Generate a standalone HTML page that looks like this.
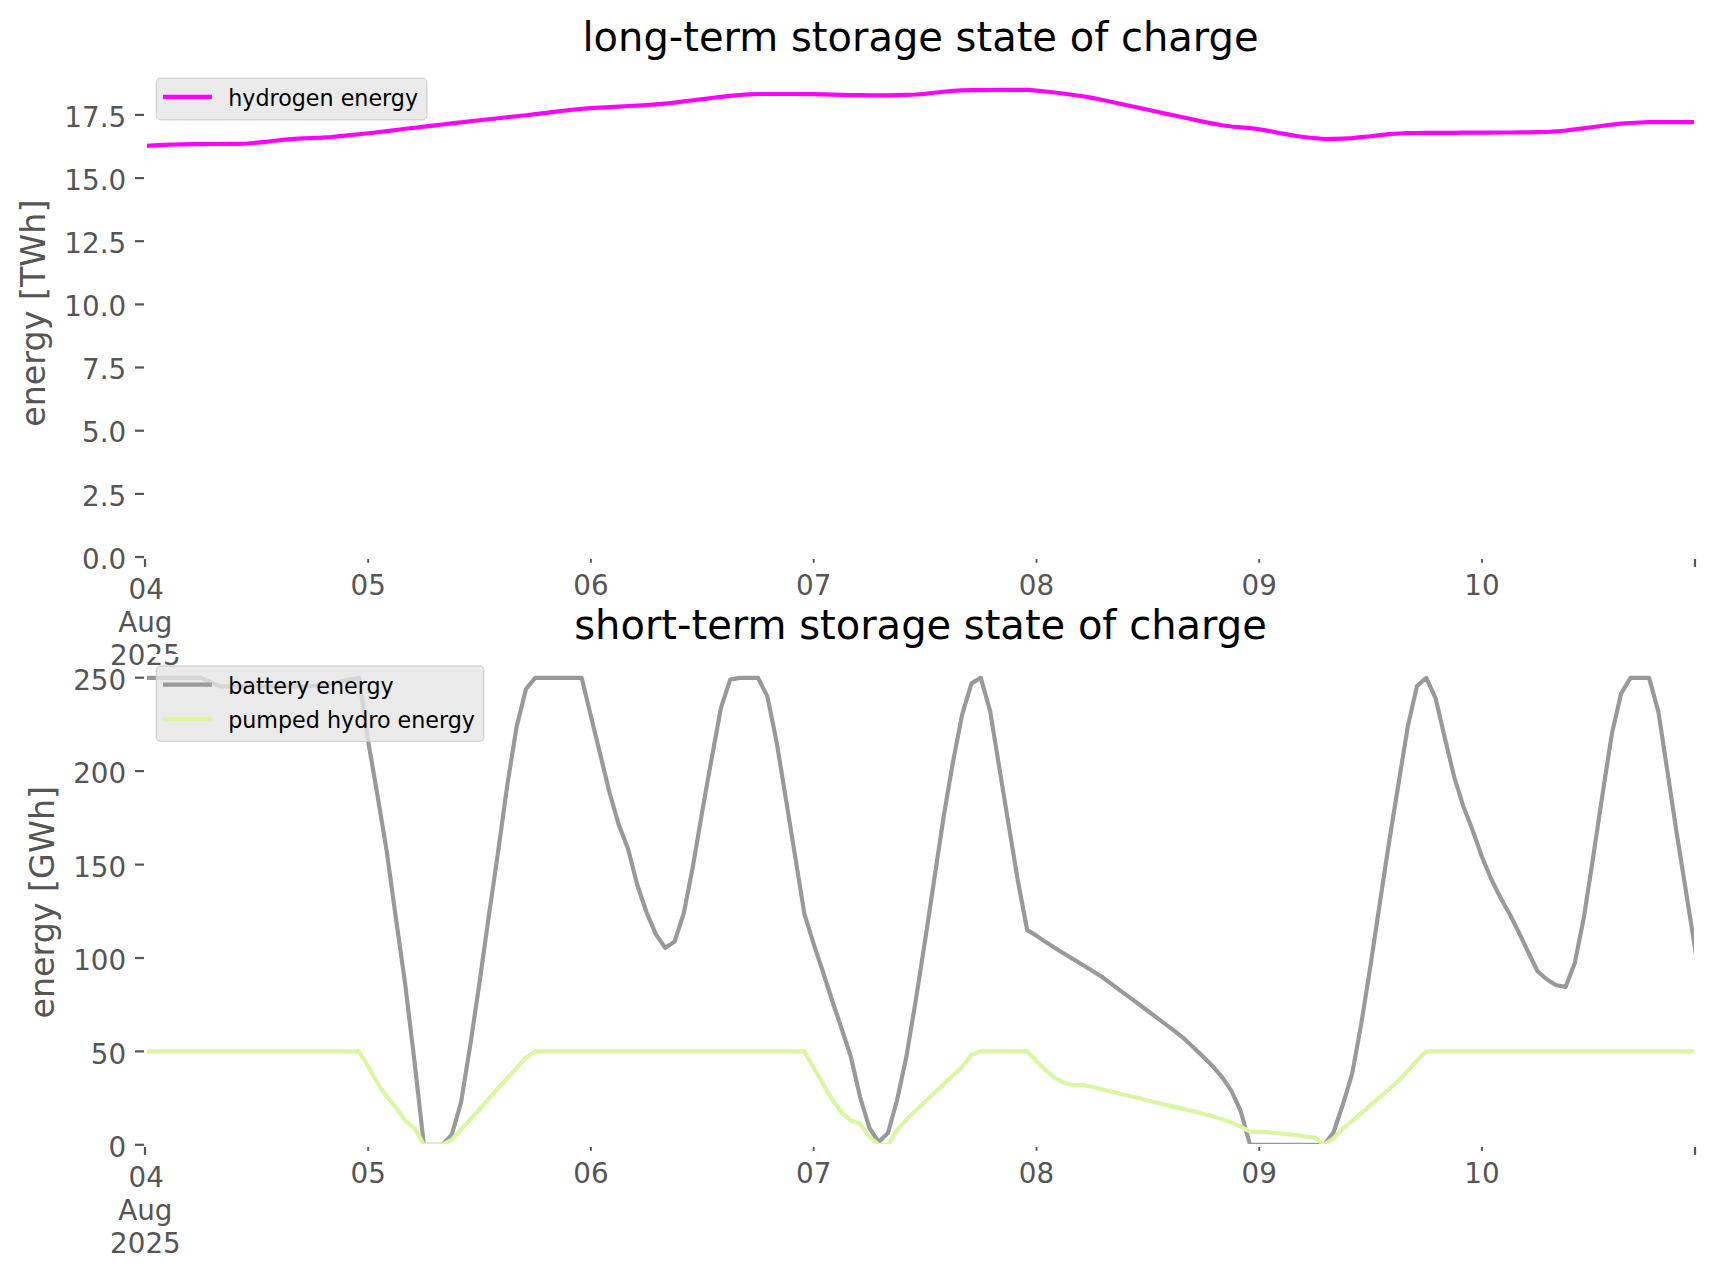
<!DOCTYPE html>
<html><head><meta charset="utf-8"><title>storage state of charge</title>
<style>
html,body{margin:0;padding:0;background:#fff;}
svg{display:block;font-family:"DejaVu Sans","Liberation Sans",sans-serif;}
.tk{font-size:27.78px;fill:#555555;}
.ti{font-size:40px;fill:#000;}
.al{font-size:33.33px;fill:#555555;}
.lg{font-size:22.22px;fill:#000;}
</style></head><body>
<svg width="1715" height="1277" viewBox="0 0 1715 1277">
<rect width="1715" height="1277" fill="#fff"/>
<defs>
<clipPath id="c1"><rect x="145.4" y="67.0" width="1550.1" height="490.20000000000005"/></clipPath>
<clipPath id="c2"><rect x="145.4" y="655.0" width="1550.1" height="490.20000000000005"/></clipPath>
</defs>

<line x1="135.0" y1="557.0" x2="145.4" y2="557.0" stroke="#555555" stroke-width="2.2"/>
<text class="tk" x="126.2" y="568.6" text-anchor="end">0.0</text>
<line x1="135.0" y1="493.9" x2="145.4" y2="493.9" stroke="#555555" stroke-width="2.2"/>
<text class="tk" x="126.2" y="505.5" text-anchor="end">2.5</text>
<line x1="135.0" y1="430.7" x2="145.4" y2="430.7" stroke="#555555" stroke-width="2.2"/>
<text class="tk" x="126.2" y="442.3" text-anchor="end">5.0</text>
<line x1="135.0" y1="367.5" x2="145.4" y2="367.5" stroke="#555555" stroke-width="2.2"/>
<text class="tk" x="126.2" y="379.1" text-anchor="end">7.5</text>
<line x1="135.0" y1="304.4" x2="145.4" y2="304.4" stroke="#555555" stroke-width="2.2"/>
<text class="tk" x="126.2" y="316.0" text-anchor="end">10.0</text>
<line x1="135.0" y1="241.2" x2="145.4" y2="241.2" stroke="#555555" stroke-width="2.2"/>
<text class="tk" x="126.2" y="252.8" text-anchor="end">12.5</text>
<line x1="135.0" y1="178.1" x2="145.4" y2="178.1" stroke="#555555" stroke-width="2.2"/>
<text class="tk" x="126.2" y="189.7" text-anchor="end">15.0</text>
<line x1="135.0" y1="114.9" x2="145.4" y2="114.9" stroke="#555555" stroke-width="2.2"/>
<text class="tk" x="126.2" y="126.5" text-anchor="end">17.5</text>
<line x1="368.2" y1="557.2" x2="368.2" y2="562.8" stroke="#555555" stroke-width="1.9"/>
<text class="tk" x="368.2" y="594.7" text-anchor="middle">05</text>
<line x1="590.9" y1="557.2" x2="590.9" y2="562.8" stroke="#555555" stroke-width="1.9"/>
<text class="tk" x="590.9" y="594.7" text-anchor="middle">06</text>
<line x1="813.7" y1="557.2" x2="813.7" y2="562.8" stroke="#555555" stroke-width="1.9"/>
<text class="tk" x="813.7" y="594.7" text-anchor="middle">07</text>
<line x1="1036.5" y1="557.2" x2="1036.5" y2="562.8" stroke="#555555" stroke-width="1.9"/>
<text class="tk" x="1036.5" y="594.7" text-anchor="middle">08</text>
<line x1="1259.2" y1="557.2" x2="1259.2" y2="562.8" stroke="#555555" stroke-width="1.9"/>
<text class="tk" x="1259.2" y="594.7" text-anchor="middle">09</text>
<line x1="1482.0" y1="557.2" x2="1482.0" y2="562.8" stroke="#555555" stroke-width="1.9"/>
<text class="tk" x="1482.0" y="594.7" text-anchor="middle">10</text>
<line x1="145.0" y1="557.2" x2="145.0" y2="566.9" stroke="#555555" stroke-width="2.2"/>
<line x1="1695.0" y1="557.2" x2="1695.0" y2="566.9" stroke="#555555" stroke-width="2.2"/>
<text class="tk" x="146.2" y="598.8" text-anchor="middle">04</text>
<text class="tk" x="145.4" y="632.1" text-anchor="middle">Aug</text>
<text class="tk" x="145.4" y="665.4" text-anchor="middle">2025</text>
<polyline clip-path="url(#c1)" fill="none" stroke="#FF00FF" stroke-width="4.17" stroke-linejoin="round" stroke-linecap="square" points="145.4,145.8 154.7,145.3 164.0,144.9 173.2,144.5 182.5,144.3 191.8,144.2 201.1,144.1 210.4,144.0 219.7,144.0 228.9,143.9 238.2,143.9 247.5,143.5 256.8,142.7 266.1,141.8 275.3,140.7 284.6,139.6 293.9,138.8 303.2,138.4 312.5,138.0 321.8,137.6 331.0,137.0 340.3,136.1 349.6,135.2 358.9,134.2 368.2,133.2 377.5,132.2 386.7,131.1 396.0,130.0 405.3,128.8 414.6,127.7 423.9,126.6 433.1,125.6 442.4,124.5 451.7,123.4 461.0,122.4 470.3,121.3 479.6,120.2 488.8,119.2 498.1,118.2 507.4,117.2 516.7,116.2 526.0,115.2 535.2,114.1 544.5,113.1 553.8,111.9 563.1,110.8 572.4,109.8 581.7,108.9 590.9,108.2 600.2,107.6 609.5,107.1 618.8,106.6 628.1,106.0 637.3,105.6 646.6,105.0 655.9,104.4 665.2,103.6 674.5,102.6 683.8,101.4 693.0,100.2 702.3,99.1 711.6,98.0 720.9,96.9 730.2,95.8 739.5,95.0 748.7,94.3 758.0,94.0 767.3,94.0 776.6,94.0 785.9,94.0 795.1,94.0 804.4,94.1 813.7,94.2 823.0,94.4 832.3,94.7 841.6,94.9 850.8,95.1 860.1,95.2 869.4,95.4 878.7,95.4 888.0,95.4 897.2,95.2 906.5,94.9 915.8,94.5 925.1,93.8 934.4,92.8 943.7,91.7 952.9,90.8 962.2,90.3 971.5,90.2 980.8,90.1 990.1,90.0 999.3,89.9 1008.6,89.9 1017.9,89.9 1027.2,89.9 1036.5,90.6 1045.8,91.5 1055.0,92.5 1064.3,93.7 1073.6,95.0 1082.9,96.3 1092.2,97.9 1101.4,99.7 1110.7,101.7 1120.0,103.7 1129.3,105.8 1138.6,107.7 1147.9,109.8 1157.1,111.8 1166.4,113.9 1175.7,115.8 1185.0,117.8 1194.3,119.8 1203.6,121.8 1212.8,123.6 1222.1,125.3 1231.4,126.5 1240.7,127.3 1250.0,128.1 1259.2,129.3 1268.5,130.9 1277.8,132.7 1287.1,134.4 1296.4,136.0 1305.7,137.2 1314.9,138.2 1324.2,139.0 1333.5,138.9 1342.8,138.6 1352.1,138.1 1361.3,137.2 1370.6,136.2 1379.9,135.1 1389.2,134.2 1398.5,133.5 1407.8,133.2 1417.0,133.0 1426.3,132.9 1435.6,132.8 1444.9,132.8 1454.2,132.8 1463.4,132.7 1472.7,132.7 1482.0,132.7 1491.3,132.6 1500.6,132.5 1509.9,132.5 1519.1,132.4 1528.4,132.3 1537.7,132.2 1547.0,132.0 1556.3,131.3 1565.6,130.5 1574.8,129.4 1584.1,128.2 1593.4,127.0 1602.7,125.8 1612.0,124.6 1621.2,123.7 1630.5,123.0 1639.8,122.5 1649.1,122.2 1658.4,122.2 1667.7,122.2 1676.9,122.2 1686.2,122.2 1695.5,122.2"/>
<rect x="144" y="66" width="3" height="493" fill="#fff"/>
<rect x="1694" y="66" width="3" height="493" fill="#fff"/>
<rect x="144" y="556" width="1553" height="3" fill="#fff"/>
<rect x="144" y="66" width="1553" height="3" fill="#fff"/>
<text class="ti" x="920.5" y="50.6" text-anchor="middle">long-term storage state of charge</text>
<text class="al" transform="translate(44.9,313.2) rotate(-90)" text-anchor="middle">energy [TWh]</text>
<rect x="156.3" y="78.1" width="270.5" height="41.7" rx="4.4" ry="4.4" fill="#E5E5E5" fill-opacity="0.8" stroke="#cccccc" stroke-opacity="0.8" stroke-width="1.4"/>
<line x1="163.0" y1="96.8" x2="211.9" y2="96.8" stroke="#FF00FF" stroke-width="4.17"/>
<text class="lg" x="228.2" y="105.7">hydrogen energy</text>
<line x1="135.0" y1="1144.8" x2="145.4" y2="1144.8" stroke="#555555" stroke-width="2.2"/>
<text class="tk" x="126.2" y="1156.9" text-anchor="end">0</text>
<line x1="135.0" y1="1051.4" x2="145.4" y2="1051.4" stroke="#555555" stroke-width="2.2"/>
<text class="tk" x="126.2" y="1063.5" text-anchor="end">50</text>
<line x1="135.0" y1="958.0" x2="145.4" y2="958.0" stroke="#555555" stroke-width="2.2"/>
<text class="tk" x="126.2" y="970.1" text-anchor="end">100</text>
<line x1="135.0" y1="864.6" x2="145.4" y2="864.6" stroke="#555555" stroke-width="2.2"/>
<text class="tk" x="126.2" y="876.7" text-anchor="end">150</text>
<line x1="135.0" y1="771.1" x2="145.4" y2="771.1" stroke="#555555" stroke-width="2.2"/>
<text class="tk" x="126.2" y="783.2" text-anchor="end">200</text>
<line x1="135.0" y1="677.7" x2="145.4" y2="677.7" stroke="#555555" stroke-width="2.2"/>
<text class="tk" x="126.2" y="689.8" text-anchor="end">250</text>
<line x1="368.2" y1="1145.2" x2="368.2" y2="1150.8" stroke="#555555" stroke-width="1.9"/>
<text class="tk" x="368.2" y="1182.7" text-anchor="middle">05</text>
<line x1="590.9" y1="1145.2" x2="590.9" y2="1150.8" stroke="#555555" stroke-width="1.9"/>
<text class="tk" x="590.9" y="1182.7" text-anchor="middle">06</text>
<line x1="813.7" y1="1145.2" x2="813.7" y2="1150.8" stroke="#555555" stroke-width="1.9"/>
<text class="tk" x="813.7" y="1182.7" text-anchor="middle">07</text>
<line x1="1036.5" y1="1145.2" x2="1036.5" y2="1150.8" stroke="#555555" stroke-width="1.9"/>
<text class="tk" x="1036.5" y="1182.7" text-anchor="middle">08</text>
<line x1="1259.2" y1="1145.2" x2="1259.2" y2="1150.8" stroke="#555555" stroke-width="1.9"/>
<text class="tk" x="1259.2" y="1182.7" text-anchor="middle">09</text>
<line x1="1482.0" y1="1145.2" x2="1482.0" y2="1150.8" stroke="#555555" stroke-width="1.9"/>
<text class="tk" x="1482.0" y="1182.7" text-anchor="middle">10</text>
<line x1="145.0" y1="1145.2" x2="145.0" y2="1154.9" stroke="#555555" stroke-width="2.2"/>
<line x1="1695.0" y1="1145.2" x2="1695.0" y2="1154.9" stroke="#555555" stroke-width="2.2"/>
<text class="tk" x="146.2" y="1186.8" text-anchor="middle">04</text>
<text class="tk" x="145.4" y="1220.1" text-anchor="middle">Aug</text>
<text class="tk" x="145.4" y="1253.4" text-anchor="middle">2025</text>
<polyline clip-path="url(#c2)" fill="none" stroke="#999999" stroke-width="4.17" stroke-linejoin="round" stroke-linecap="square" points="145.4,677.9 154.7,677.9 164.0,677.9 173.2,677.9 182.5,677.9 191.8,677.9 201.1,677.9 210.4,682.1 219.7,686.3 228.9,686.3 238.2,686.3 247.5,686.3 256.8,686.3 266.1,686.3 275.3,686.3 284.6,686.3 293.9,686.3 303.2,686.3 312.5,686.0 321.8,685.0 331.0,683.5 340.3,681.5 349.6,679.5 358.9,677.9 368.2,741.2 377.5,795.7 386.7,851.0 396.0,918.9 405.3,985.0 414.6,1062.5 423.9,1144.8 433.1,1144.8 442.4,1144.8 451.7,1135.0 461.0,1102.6 470.3,1045.0 479.6,982.0 488.8,916.0 498.1,852.0 507.4,784.2 516.7,726.4 526.0,689.0 535.2,677.9 544.5,677.9 553.8,677.9 563.1,677.9 572.4,677.9 581.7,677.9 590.9,716.0 600.2,754.2 609.5,792.5 618.8,824.8 628.1,849.1 637.3,885.0 646.6,912.5 655.9,934.4 665.2,947.7 674.5,941.8 683.8,913.2 693.0,866.0 702.3,811.0 711.6,758.8 720.9,708.1 730.2,679.6 739.5,677.9 748.7,677.9 758.0,677.9 767.3,696.1 776.6,741.9 785.9,799.0 795.1,856.0 804.4,914.0 813.7,944.0 823.0,972.0 832.3,1001.0 841.6,1028.7 850.8,1056.7 860.1,1097.0 869.4,1128.0 878.7,1142.0 888.0,1133.0 897.2,1099.5 906.5,1056.0 915.8,1000.0 925.1,940.5 934.4,878.4 943.7,816.4 952.9,762.3 962.2,714.4 971.5,683.4 980.8,677.9 990.1,711.0 999.3,767.5 1008.6,824.5 1017.9,881.0 1027.2,930.1 1036.5,935.6 1045.8,942.1 1055.0,948.0 1064.3,953.7 1073.6,959.4 1082.9,965.0 1092.2,970.7 1101.4,976.5 1110.7,983.4 1120.0,990.3 1129.3,997.1 1138.6,1004.0 1147.9,1011.0 1157.1,1017.9 1166.4,1024.9 1175.7,1031.8 1185.0,1039.4 1194.3,1048.2 1203.6,1057.2 1212.8,1066.4 1222.1,1077.2 1231.4,1090.9 1240.7,1111.0 1250.0,1144.8 1259.2,1144.8 1268.5,1144.8 1277.8,1144.8 1287.1,1144.8 1296.4,1144.8 1305.7,1144.8 1314.9,1144.8 1324.2,1144.8 1333.5,1132.5 1342.8,1104.5 1352.1,1074.0 1361.3,1023.5 1370.6,965.0 1379.9,902.6 1389.2,841.4 1398.5,783.9 1407.8,726.4 1417.0,686.0 1426.3,677.9 1435.6,698.3 1444.9,738.2 1454.2,777.0 1463.4,806.5 1472.7,830.5 1482.0,857.0 1491.3,879.3 1500.6,898.0 1509.9,914.5 1519.1,933.0 1528.4,952.5 1537.7,971.5 1547.0,979.5 1556.3,985.2 1565.6,986.9 1574.8,963.0 1584.1,916.1 1593.4,855.5 1602.7,793.1 1612.0,733.0 1621.2,693.3 1630.5,677.9 1639.8,677.9 1649.1,677.9 1658.4,711.9 1667.7,773.2 1676.9,834.4 1686.2,893.0 1695.5,951.5"/>
<polyline clip-path="url(#c2)" fill="none" stroke="#D9F6A2" stroke-width="4.17" stroke-linejoin="round" stroke-linecap="square" points="145.4,1051.4 154.7,1051.4 164.0,1051.4 173.2,1051.4 182.5,1051.4 191.8,1051.4 201.1,1051.4 210.4,1051.4 219.7,1051.4 228.9,1051.4 238.2,1051.4 247.5,1051.4 256.8,1051.4 266.1,1051.4 275.3,1051.4 284.6,1051.4 293.9,1051.4 303.2,1051.4 312.5,1051.4 321.8,1051.4 331.0,1051.4 340.3,1051.4 349.6,1051.4 358.9,1051.4 368.2,1066.4 377.5,1083.0 386.7,1096.7 396.0,1107.5 405.3,1120.8 414.6,1128.1 423.9,1144.8 433.1,1144.8 442.4,1144.8 451.7,1139.8 461.0,1129.5 470.3,1119.3 479.6,1109.0 488.8,1098.7 498.1,1088.4 507.4,1078.2 516.7,1067.9 526.0,1057.6 535.2,1051.4 544.5,1051.4 553.8,1051.4 563.1,1051.4 572.4,1051.4 581.7,1051.4 590.9,1051.4 600.2,1051.4 609.5,1051.4 618.8,1051.4 628.1,1051.4 637.3,1051.4 646.6,1051.4 655.9,1051.4 665.2,1051.4 674.5,1051.4 683.8,1051.4 693.0,1051.4 702.3,1051.4 711.6,1051.4 720.9,1051.4 730.2,1051.4 739.5,1051.4 748.7,1051.4 758.0,1051.4 767.3,1051.4 776.6,1051.4 785.9,1051.4 795.1,1051.4 804.4,1051.4 813.7,1067.8 823.0,1084.0 832.3,1099.7 841.6,1112.4 850.8,1120.6 860.1,1123.6 869.4,1136.9 878.7,1144.8 888.0,1144.8 897.2,1129.8 906.5,1119.5 915.8,1110.5 925.1,1101.8 934.4,1093.0 943.7,1084.4 952.9,1075.6 962.2,1066.8 971.5,1054.7 980.8,1051.4 990.1,1051.4 999.3,1051.4 1008.6,1051.4 1017.9,1051.4 1027.2,1051.4 1036.5,1061.5 1045.8,1070.3 1055.0,1078.2 1064.3,1083.0 1073.6,1085.0 1082.9,1084.8 1092.2,1087.0 1101.4,1089.3 1110.7,1091.5 1120.0,1093.8 1129.3,1096.0 1138.6,1098.1 1147.9,1100.5 1157.1,1102.6 1166.4,1105.0 1175.7,1107.1 1185.0,1109.3 1194.3,1111.6 1203.6,1114.0 1212.8,1116.3 1222.1,1119.3 1231.4,1122.4 1240.7,1126.7 1250.0,1131.6 1259.2,1131.8 1268.5,1132.2 1277.8,1133.2 1287.1,1134.1 1296.4,1135.1 1305.7,1136.5 1314.9,1137.6 1324.2,1144.8 1333.5,1138.5 1342.8,1128.5 1352.1,1121.0 1361.3,1113.2 1370.6,1105.2 1379.9,1097.2 1389.2,1089.0 1398.5,1080.7 1407.8,1070.8 1417.0,1060.5 1426.3,1051.4 1435.6,1051.4 1444.9,1051.4 1454.2,1051.4 1463.4,1051.4 1472.7,1051.4 1482.0,1051.4 1491.3,1051.4 1500.6,1051.4 1509.9,1051.4 1519.1,1051.4 1528.4,1051.4 1537.7,1051.4 1547.0,1051.4 1556.3,1051.4 1565.6,1051.4 1574.8,1051.4 1584.1,1051.4 1593.4,1051.4 1602.7,1051.4 1612.0,1051.4 1621.2,1051.4 1630.5,1051.4 1639.8,1051.4 1649.1,1051.4 1658.4,1051.4 1667.7,1051.4 1676.9,1051.4 1686.2,1051.4 1695.5,1051.4"/>
<rect x="144" y="654" width="3" height="493" fill="#fff"/>
<rect x="1694" y="654" width="3" height="493" fill="#fff"/>
<rect x="144" y="1144" width="1553" height="3" fill="#fff"/>
<rect x="144" y="654" width="1553" height="3" fill="#fff"/>
<text class="ti" x="920.5" y="638.6" text-anchor="middle">short-term storage state of charge</text>
<text class="al" transform="translate(53.9,902.3) rotate(-90)" text-anchor="middle">energy [GWh]</text>
<rect x="156.3" y="666.0" width="327.5" height="75.4" rx="4.4" ry="4.4" fill="#E5E5E5" fill-opacity="0.8" stroke="#cccccc" stroke-opacity="0.8" stroke-width="1.4"/>
<line x1="163.0" y1="684.6" x2="211.9" y2="684.6" stroke="#999999" stroke-width="4.17"/>
<text class="lg" x="228.2" y="693.5">battery energy</text>
<line x1="163.0" y1="718.9" x2="211.9" y2="718.9" stroke="#D9F6A2" stroke-width="4.17"/>
<text class="lg" x="228.2" y="727.8">pumped hydro energy</text>
</svg></body></html>
